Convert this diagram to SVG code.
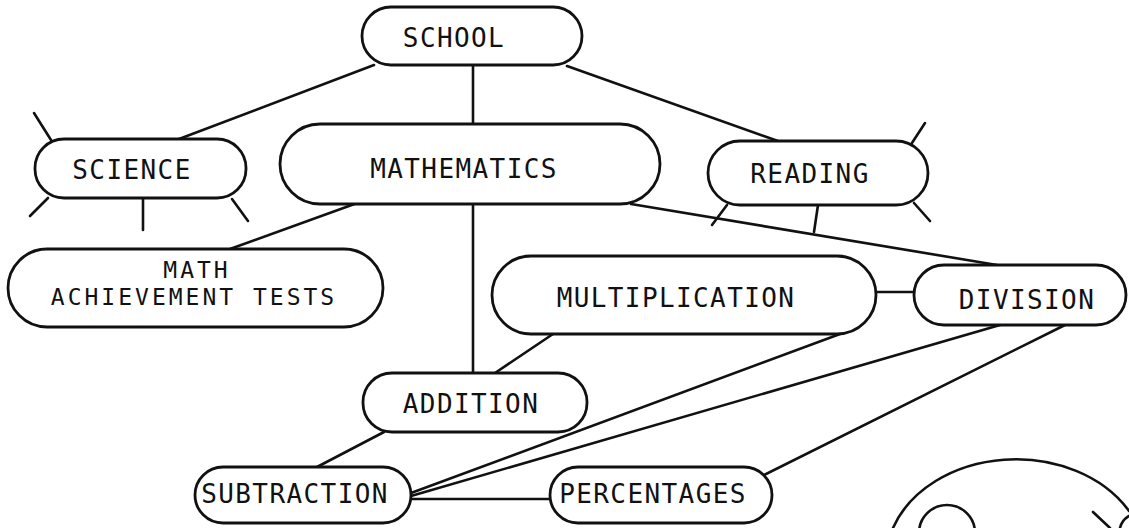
<svg xmlns="http://www.w3.org/2000/svg" width="1129" height="528" viewBox="0 0 1129 528">
<style>
.box{fill:#fff;stroke:#111;stroke-width:2.8}
.ln{fill:none;stroke:#111;stroke-width:2.6;stroke-linecap:round}
text{font-family:"DejaVu Sans Mono","Liberation Mono",monospace;font-size:26px;letter-spacing:1.4px;fill:#111;text-anchor:middle}
text.sm{font-size:23px;letter-spacing:3px}
</style>
<rect width="1129" height="528" fill="#fff"/>
<g id="connectors" class="ln">
<line x1="374" y1="65" x2="179" y2="139"/>
<line x1="473" y1="65" x2="473" y2="124"/>
<line x1="567" y1="66" x2="778" y2="141"/>
<line x1="360" y1="202" x2="230" y2="249"/>
<line x1="473" y1="204" x2="473" y2="373"/>
<line x1="631" y1="204" x2="997" y2="265"/>
<line x1="553" y1="334" x2="495" y2="373"/>
<line x1="876" y1="292" x2="914" y2="292"/>
<line x1="840" y1="334" x2="411" y2="493"/>
<line x1="1000" y1="325" x2="411" y2="496"/>
<line x1="1065" y1="325" x2="762" y2="476"/>
<line x1="384" y1="432" x2="317" y2="467"/>
<line x1="411" y1="499" x2="550" y2="499"/>
</g>
<g id="school">
<rect class="box" x="362" y="7" width="220" height="58" rx="29"/>
<text x="454" y="47">SCHOOL</text>
</g>
<g id="science">
<g class="ln">
<line x1="34" y1="113" x2="51" y2="140"/>
<line x1="30" y1="216" x2="48" y2="198"/>
<line x1="143" y1="198" x2="143" y2="230"/>
<line x1="232" y1="199" x2="248" y2="221"/>
</g>
<rect class="box" x="35" y="139" width="211" height="59" rx="29"/>
<text x="132" y="179">SCIENCE</text>
</g>
<g id="mathematics">
<rect class="box" x="280" y="124" width="380" height="80" rx="40"/>
<text x="464" y="178">MATHEMATICS</text>
</g>
<g id="reading">
<g class="ln">
<line x1="910" y1="146" x2="925" y2="123"/>
<line x1="727" y1="205" x2="712" y2="225"/>
<line x1="818" y1="205" x2="814" y2="232"/>
<line x1="914" y1="203" x2="930" y2="221"/>
</g>
<rect class="box" x="708" y="141" width="220" height="64" rx="32"/>
<text x="810" y="183">READING</text>
</g>
<g id="math-achievement-tests">
<rect class="box" x="8" y="249" width="375" height="78" rx="39"/>
<text class="sm" x="197" y="278">MATH</text>
<text class="sm" x="194" y="305">ACHIEVEMENT TESTS</text>
</g>
<g id="multiplication">
<rect class="box" x="492" y="256" width="384" height="78" rx="39"/>
<text x="676" y="307">MULTIPLICATION</text>
</g>
<g id="division">
<rect class="box" x="914" y="265" width="212" height="60" rx="30"/>
<text x="1027" y="309">DIVISION</text>
</g>
<g id="addition">
<rect class="box" x="363" y="373" width="224" height="59" rx="29"/>
<text x="471" y="413">ADDITION</text>
</g>
<g id="subtraction">
<rect class="box" x="195" y="467" width="216" height="56" rx="28"/>
<text x="295" y="503">SUBTRACTION</text>
</g>
<g id="percentages">
<rect class="box" x="550" y="467" width="222" height="56" rx="28"/>
<text x="653" y="503">PERCENTAGES</text>
</g>
<g id="partial-figure" class="ln">
<path d="M893,528 A130,102 0 0 1 1129,511"/>
<circle cx="947" cy="533" r="28"/>
<line x1="1093" y1="512" x2="1110" y2="528"/>
<path d="M1120,528 Q1122,520 1129,516"/>
</g>
</svg>
